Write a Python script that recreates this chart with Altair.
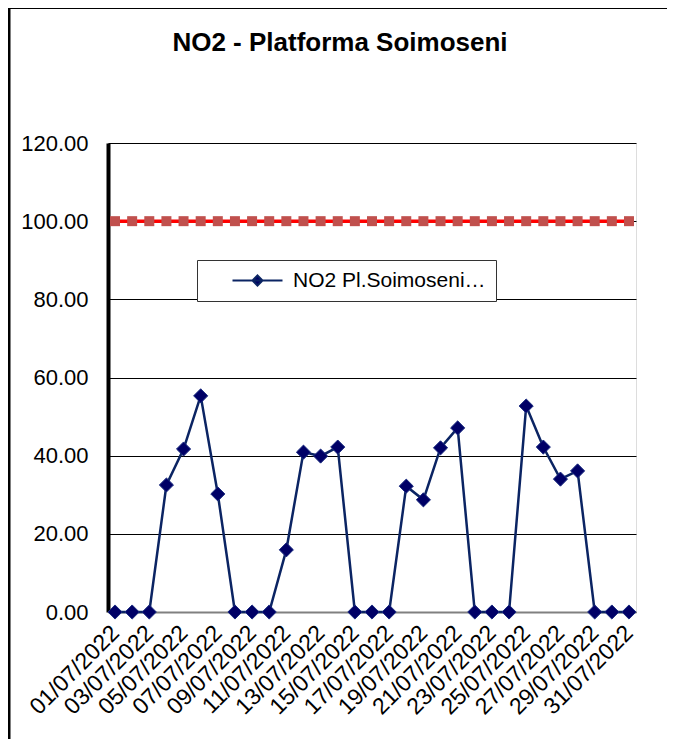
import altair as alt
import pandas as pd

dates = ["01/07/2022", "02/07/2022", "03/07/2022", "04/07/2022", "05/07/2022",
         "06/07/2022", "07/07/2022", "08/07/2022", "09/07/2022", "10/07/2022",
         "11/07/2022", "12/07/2022", "13/07/2022", "14/07/2022", "15/07/2022",
         "16/07/2022", "17/07/2022", "18/07/2022", "19/07/2022", "20/07/2022",
         "21/07/2022", "22/07/2022", "23/07/2022", "24/07/2022", "25/07/2022",
         "26/07/2022", "27/07/2022", "28/07/2022", "29/07/2022", "30/07/2022",
         "31/07/2022"]
no2 = [0, 0, 0, 32.5, 41.7, 55.3, 30.2, 0, 0, 0,
       15.9, 40.9, 39.9, 42.2, 0, 0, 0, 32.2, 28.7, 42.0,
       47.1, 0, 0, 0, 52.7, 42.2, 34.0, 36.1, 0, 0, 0]
limit = [100, 100, 100, 100, 100, 100, 100, 100, 100, 100,
         100, 100, 100, 100, 100, 100, 100, 100, 100, 100,
         100, 100, 100, 100, 100, 100, 100, 100, 100, 100, 100]
tick_dates = ["01/07/2022", "03/07/2022", "05/07/2022", "07/07/2022", "09/07/2022",
              "11/07/2022", "13/07/2022", "15/07/2022", "17/07/2022", "19/07/2022",
              "21/07/2022", "23/07/2022", "25/07/2022", "27/07/2022", "29/07/2022",
              "31/07/2022"]
y_ticks = [0, 20, 40, 60, 80, 100, 120]
series_name = "NO2 Pl.Soimoseni…"
title_text = "NO2 - Platforma Soimoseni"

df = pd.DataFrame({"date": dates, "no2": no2, "limit": limit, "series": series_name})

FONT = "Liberation Sans"
NAVY = "#000066"
LINE = "#0B2463"

x_enc = alt.X(
    "date:O", sort=dates,
    scale=alt.Scale(type="point", padding=0.41),
    axis=alt.Axis(values=tick_dates, labelAngle=-45, labelAlign="right",
                  labelBaseline="middle", labelPadding=17, ticks=False,
                  domainColor="#808080", domainWidth=2, labelFont=FONT,
                  labelFontSize=23, labelColor="black", title=None,
                  grid=False, labelOverlap=False),
)

y_axis = alt.Axis(values=y_ticks, format=".2f", ticks=False, labelPadding=20,
                  labelFont=FONT, labelFontSize=22, labelColor="black",
                  domainColor="black", domainWidth=4, gridColor="black",
                  gridWidth=1, title=None)
y_scale = alt.Scale(domain=[0, 120], nice=False)

base = alt.Chart(df).encode(x=x_enc)

limit_line = base.mark_line(color="#FF0000", strokeWidth=3.5).encode(
    y=alt.Y("limit:Q", scale=y_scale, axis=y_axis))
limit_pts = base.mark_point(shape="square", filled=True, size=100,
                            color="#C0504D", opacity=1).encode(
    y=alt.Y("limit:Q", scale=y_scale, axis=y_axis))
no2_line = base.mark_line(strokeWidth=2.5).encode(
    y=alt.Y("no2:Q", scale=y_scale, axis=y_axis),
    color=alt.Color(
        "series:N",
        scale=alt.Scale(domain=[series_name], range=[LINE]),
        legend=alt.Legend(
            title=None, orient="none", legendX=89, legendY=117,
            symbolType="M-5,0L5,0M0,-1L1,0L0,1L-1,0Z", symbolSize=100,
            symbolFillColor=NAVY, symbolStrokeColor=LINE, symbolStrokeWidth=2,
            symbolOffset=40, labelOffset=25, padding=10,
            strokeColor="#333333", fillColor="white",
            labelFont=FONT, labelFontSize=21, labelColor="black",
            labelLimit=400,
        ),
    ),
)
no2_pts = base.mark_point(shape="diamond", filled=True, size=200, opacity=1,
                          color=NAVY, stroke="#1B2C80", strokeWidth=1).encode(
    y=alt.Y("no2:Q", scale=y_scale, axis=y_axis))

frame_data = alt.Data(values=[{}])
frame_left = alt.Chart(frame_data).mark_rule(color="black", strokeWidth=3).encode(
    x=alt.value(-99), y=alt.value(-135), y2=alt.value(596))
frame_top = alt.Chart(frame_data).mark_rule(color="black", strokeWidth=1).encode(
    x=alt.value(-100), x2=alt.value(559), y=alt.value(-134.5))

chart = alt.layer(limit_line, limit_pts, no2_line, no2_pts, frame_left, frame_top).properties(
    width=528, height=469,
    title=alt.TitleParams(title_text, font=FONT, fontSize=26, fontWeight="bold",
                          color="black", anchor="middle", dx=-32, offset=-70,
                          baseline="alphabetic"),
    autosize=alt.AutoSizeParams(type="none"),
    padding={"left": 100, "top": 135, "right": 31, "bottom": 127},
).configure_view(stroke=None).configure(background="white")

chart.save("out.html", embed_options={"renderer": "svg", "actions": False})
